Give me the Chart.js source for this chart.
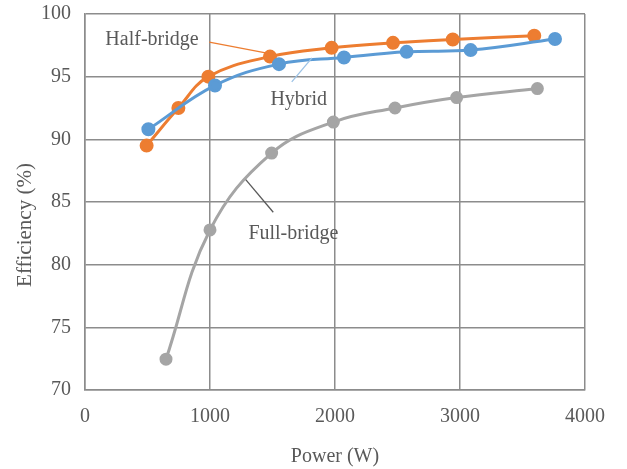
<!DOCTYPE html>
<html><head><meta charset="utf-8">
<script src="https://cdn.jsdelivr.net/npm/chart.js@4"></script>
<style>html,body{margin:0;padding:0;background:#fff}#wrap{width:627px;height:469px}</style>
</head><body><div id="wrap"><canvas id="c" width="627" height="469"></canvas></div>
<script>
const halfBridgeX = [493, 747, 987, 1480, 1973, 2464, 2942, 3594];
const halfBridgeY = [89.5, 92.5, 95.0, 96.6, 97.3, 97.7, 97.97, 98.27];
const hybridX = [507, 1040, 1552, 2072, 2573, 3085, 3760];
const hybridY = [90.8, 94.3, 96.0, 96.53, 96.98, 97.12, 98.0];
const fullBridgeX = [648, 1000, 1493, 1987, 2480, 2973, 3619];
const fullBridgeY = [72.46, 82.77, 88.9, 91.38, 92.5, 93.33, 94.05];
const xTicks = [0, 1000, 2000, 3000, 4000];
const yTicks = [70, 75, 80, 85, 90, 95, 100];
const seriesNames = ['Half-bridge', 'Hybrid', 'Full-bridge'];
const xTitle = 'Power (W)';
const yTitle = 'Efficiency (%)';
// label annotations: text anchor (data units) and leader line ends (data units)
const labelPos = [
  {text: 'Half-bridge', x: 536, y: 97.92, from: [994, 97.76], to: [1466, 96.86]},
  {text: 'Hybrid', x: 1710, y: 93.12, from: [1654, 94.58], to: [1816, 96.5]},
  {text: 'Full-bridge', x: 1667, y: 82.48, from: [1286, 86.78], to: [1506, 84.18]}
];
const colors = ['#ED7D31', '#5B9BD5', '#A5A5A5'];
const leaderColors = ['#ED7D31', '#9DC3E6', '#595959'];
const textColor = '#595959';
const font = '"Liberation Serif"';

const zip = (xs, ys) => xs.map((x, i) => ({x, y: ys[i]}));
const mk = (i, xs, ys, r) => ({
  label: seriesNames[i], data: zip(xs, ys), borderColor: colors[i], backgroundColor: colors[i],
  pointBackgroundColor: colors[i], pointBorderColor: colors[i], pointRadius: r, pointHoverRadius: r,
  borderWidth: 3, tension: 0.4, fill: false
});

const annot = {
  id: 'annot',
  afterDatasetsDraw(chart) {
    const {ctx, scales: {x, y}, chartArea} = chart;
    ctx.save();
    labelPos.forEach((l, i) => {
      ctx.strokeStyle = leaderColors[i]; ctx.lineWidth = 1.3;
      ctx.beginPath();
      ctx.moveTo(x.getPixelForValue(l.from[0]), y.getPixelForValue(l.from[1]));
      ctx.lineTo(x.getPixelForValue(l.to[0]), y.getPixelForValue(l.to[1]));
      ctx.stroke();
      ctx.fillStyle = textColor;
      ctx.font = '20px ' + font;
      ctx.textAlign = 'center'; ctx.textBaseline = 'middle';
      ctx.fillText(l.text, x.getPixelForValue(l.x), y.getPixelForValue(l.y));
    });
    // y axis title (placed slightly below the plot's middle, as in the reference)
    ctx.translate(25, (chartArea.top + chartArea.bottom) / 2 + 23);
    ctx.rotate(-Math.PI / 2);
    ctx.font = '21px ' + font;
    ctx.fillText(yTitle, 0, 0);
    ctx.restore();
  }
};

new Chart(document.getElementById('c'), {
  type: 'line',
  data: {datasets: [
    mk(2, fullBridgeX, fullBridgeY, 5),
    mk(1, hybridX, hybridY, 5.5),
    mk(0, halfBridgeX, halfBridgeY, 5.5)
  ]},
  options: {
    responsive: false, animation: false,
    layout: {padding: {left: 0, right: 42, top: 14, bottom: 0}},
    plugins: {legend: {display: false}, tooltip: {enabled: false}},
    scales: {
      x: {
        type: 'linear', min: 0, max: 4000,
        afterBuildTicks: s => { s.ticks = xTicks.map(v => ({value: v})); },
        afterFit: s => { s.height = 79; },
        grid: {color: '#8c8c8c', lineWidth: 1.5, drawTicks: false},
        border: {color: '#8c8c8c', width: 1.5},
        ticks: {color: textColor, font: {family: 'Liberation Serif', size: 20}, padding: 15, maxRotation: 0, callback: v => String(v)},
        title: {display: true, text: xTitle, color: textColor, font: {family: 'Liberation Serif', size: 20}, padding: {top: 1, bottom: 0}}
      },
      y: {
        type: 'linear', min: 70, max: 100,
        afterBuildTicks: s => { s.ticks = yTicks.map(v => ({value: v})); },
        afterFit: s => { s.width = 85; s.paddingTop = 0; s.paddingBottom = 0; },
        grid: {color: '#8c8c8c', lineWidth: 1.5, drawTicks: false},
        border: {color: '#8c8c8c', width: 1.5},
        ticks: {color: textColor, font: {family: 'Liberation Serif', size: 20}, padding: 14, callback: v => String(v)},
        title: {display: false}
      }
    }
  },
  plugins: [annot]
});
</script></body></html>
